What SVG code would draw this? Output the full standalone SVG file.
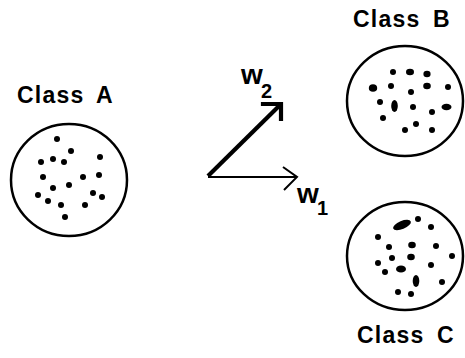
<svg xmlns="http://www.w3.org/2000/svg" width="465" height="358" viewBox="0 0 465 358">
<style>
.bg{fill:#ffffff}
.ring{fill:none;stroke:#000;stroke-width:2.5}
.dot{fill:#000}
.lbl{font-family:"Liberation Sans",Arial,sans-serif;font-weight:bold;font-size:23px;letter-spacing:1.2px;word-spacing:5px;fill:#000}
.w{font-family:"Liberation Sans",Arial,sans-serif;font-weight:bold;font-size:28px;fill:#000}
.sub{font-family:"Liberation Sans",Arial,sans-serif;font-weight:bold;font-size:20px;fill:#000}
</style>
<rect class="bg" x="0" y="0" width="465" height="358"/>
<g id="classA">
<text class="lbl" x="17" y="103">Class A</text>
<ellipse class="ring" cx="69" cy="180" rx="58" ry="56"/>
<g class="dot">
<circle cx="57" cy="139" r="3"/><circle cx="71" cy="151" r="3"/><circle cx="53" cy="159" r="3"/>
<circle cx="41" cy="162" r="3"/><circle cx="64" cy="162" r="3"/><circle cx="100" cy="157" r="3"/>
<circle cx="43" cy="177" r="3"/><circle cx="83" cy="177" r="3"/><circle cx="99" cy="175" r="3"/>
<circle cx="69" cy="185" r="3"/><circle cx="53" cy="188" r="3"/><circle cx="38" cy="195" r="3"/>
<circle cx="48" cy="201" r="3"/><circle cx="93" cy="193" r="3"/><circle cx="102" cy="197" r="3"/>
<circle cx="61" cy="205" r="3"/><circle cx="85" cy="205" r="3"/><circle cx="65" cy="217" r="3"/>
</g>
</g>
<g id="classB">
<text class="lbl" x="353" y="27">Class B</text>
<ellipse class="ring" cx="405" cy="101" rx="58" ry="55"/>
<g class="dot">
<circle cx="393" cy="72" r="3"/><ellipse cx="410" cy="72" rx="4" ry="3.2"/><ellipse cx="427" cy="74" rx="3.6" ry="3.2"/>
<ellipse cx="373" cy="88" rx="4.2" ry="3.8"/><circle cx="391" cy="86" r="3"/><ellipse cx="427" cy="86" rx="3.8" ry="3.2"/>
<circle cx="448" cy="87" r="3"/><circle cx="411" cy="92" r="3"/><circle cx="380" cy="102" r="3"/>
<ellipse cx="394.5" cy="106" rx="3.3" ry="6"/><circle cx="413" cy="107" r="3"/><ellipse cx="446.5" cy="107" rx="5" ry="3.3"/>
<circle cx="432" cy="112" r="3"/><circle cx="383" cy="118" r="3"/><circle cx="416" cy="124" r="3"/>
<circle cx="405" cy="130" r="3"/><circle cx="432" cy="130" r="3"/>
</g>
</g>
<g id="classC">
<text class="lbl" x="357" y="343">Class C</text>
<ellipse class="ring" cx="405" cy="256" rx="58" ry="54"/>
<g class="dot">
<ellipse cx="402" cy="225" rx="9.5" ry="4" transform="rotate(-22 402 225)"/><circle cx="418" cy="219" r="3"/>
<circle cx="431" cy="227" r="3"/><circle cx="378" cy="237" r="3"/><circle cx="389" cy="247" r="3"/>
<ellipse cx="412" cy="245" rx="3.8" ry="3.3"/><circle cx="436" cy="246" r="3"/><circle cx="452" cy="256" r="3"/>
<ellipse cx="411" cy="257" rx="3.8" ry="3.3"/><circle cx="392" cy="258" r="3"/><circle cx="378" cy="263" r="3"/>
<circle cx="431" cy="265" r="3"/><ellipse cx="401" cy="269" rx="5" ry="3.6"/><circle cx="385" cy="272" r="3"/>
<ellipse cx="416" cy="281" rx="3.3" ry="6"/><circle cx="442" cy="282" r="3"/><circle cx="398" cy="292" r="3"/>
<circle cx="411" cy="294" r="3"/>
</g>
</g>
<g id="connectors" fill="none" stroke="#000">
<line x1="208" y1="177" x2="296" y2="177" stroke-width="2.2"/>
<polyline points="283,167 297,177 284,190" stroke-width="2"/>
<line x1="208" y1="176" x2="279" y2="106" stroke-width="4.2"/>
<polyline points="263,104 281,104 281,119" stroke-width="4.2" stroke-linecap="square"/>
</g>
<g id="labels">
<text class="w" x="241" y="84">w</text><text class="sub" x="261" y="98">2</text>
<text class="w" x="297" y="203">w</text><text class="sub" x="317" y="215">1</text>
</g>
</svg>
